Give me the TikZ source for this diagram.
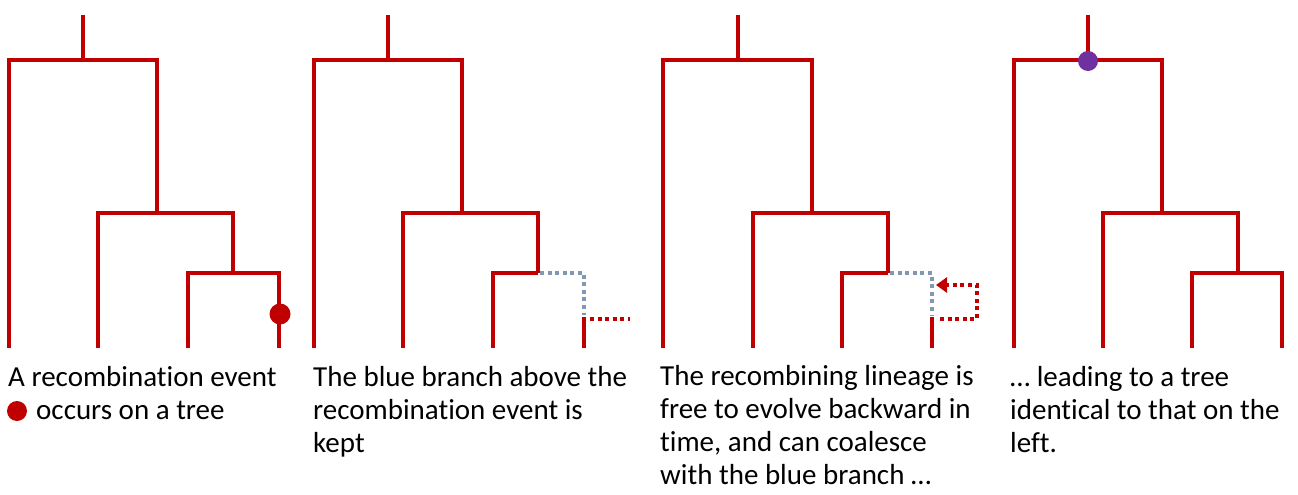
\documentclass[tikz,border=0pt]{standalone}
\usepackage{fontspec}
\setmainfont{Carlito}[Ligatures={NoCommon}]
\usetikzlibrary{arrows.meta}
\definecolor{treered}{HTML}{C00000}
\definecolor{branchblue}{HTML}{8497B0}
\definecolor{mrcapurple}{HTML}{7030A0}
\begin{document}
\begin{tikzpicture}[x=1pt,y=-1pt,
  branch/.style={draw=treered,line width=3.6pt,line join=miter,line cap=butt},
  keptbranch/.style={draw=branchblue,line width=3.6pt,dash pattern=on 4pt off 3.6pt},
  freelineage/.style={draw=treered,line width=3.6pt,dash pattern=on 4pt off 3.6pt},
  eventdot/.style={circle,fill=treered,draw=none,minimum size=21pt,inner sep=0pt},
  rootdot/.style={circle,fill=mrcapurple,draw=none,minimum size=20pt,inner sep=0pt},
  caption/.style={anchor=base west,inner sep=0pt,font=\fontsize{29}{33}\selectfont}]
\useasboundingbox (0,0) rectangle (1298,495);

% ---------- Panel 1 ----------
\begin{scope}[shift={(0,0)}]
  \draw[branch] (83,15) -- (83,60);
  \draw[branch] (9,348) -- (9,60) -- (157,60) -- (157,213);
  \draw[branch] (98,348) -- (98,213) -- (233,213) -- (233,273);
  \draw[branch] (188,348) -- (188,273) -- (279,273) -- (279,348);
  \node[eventdot] (ev1) at (280,314) {};
\end{scope}

% ---------- Panel 2 ----------
\begin{scope}[shift={(305,0)}]
  \draw[branch] (83,15) -- (83,60);
  \draw[branch] (9,348) -- (9,60) -- (157,60) -- (157,213);
  \draw[branch] (98,348) -- (98,213) -- (233,213) -- (233,273);
  \draw[branch] (188,348) -- (188,273) -- (233,273);
  \draw[keptbranch] (235,273) -- (279,273) -- (279,315);
  \draw[branch] (279,317) -- (279,348);
  \draw[freelineage] (285,319) -- (325,319);
\end{scope}

% ---------- Panel 3 ----------
\begin{scope}[shift={(655,0)}]
  \draw[branch] (83,15) -- (83,60);
  \draw[branch] (8,348) -- (8,60) -- (157,60) -- (157,213);
  \draw[branch] (98,348) -- (98,213) -- (233,213) -- (233,273);
  \draw[branch] (187,348) -- (187,273) -- (233,273);
  \draw[keptbranch] (235,273) -- (277,273) -- (277,315);
  \draw[branch] (277,317) -- (277,348);
  \draw[freelineage,-{Triangle[length=11pt,width=15pt]}] (285,319) -- (322,319) -- (322,285) -- (281,285);
\end{scope}

% ---------- Panel 4 ----------
\begin{scope}[shift={(1005,0)}]
  \draw[branch] (83,15) -- (83,60);
  \draw[branch] (9,348) -- (9,60) -- (157,60) -- (157,213);
  \draw[branch] (98,348) -- (98,213) -- (233,213) -- (233,273);
  \draw[branch] (187,348) -- (187,273) -- (277,273) -- (277,348);
  \node[rootdot] (root4) at (83,61) {};
\end{scope}

% ---------- Captions ----------
\node[caption] (c1a) at (8,386) {A recombination event};
\node[eventdot,minimum size=20pt] (c1dot) at (17,411) {};
\node[caption] (c1b) at (36,419) {occurs on a tree};

\node[caption] (c2a) at (313,386) {The blue branch above the};
\node[caption] (c2b) at (313,419) {recombination event is};
\node[caption] (c2c) at (313,452) {kept};

\node[caption] (c3a) at (660,385) {The recombining lineage is};
\node[caption] (c3b) at (660,418) {free to evolve backward in};
\node[caption] (c3c) at (660,451) {time, and can coalesce};
\node[caption] (c3d) at (660,484) {with the blue branch …};

\node[caption] (c4a) at (1010,386) {… leading to a tree};
\node[caption] (c4b) at (1010,419) {identical to that on the};
\node[caption] (c4c) at (1010,452) {left.};
\end{tikzpicture}
\end{document}
